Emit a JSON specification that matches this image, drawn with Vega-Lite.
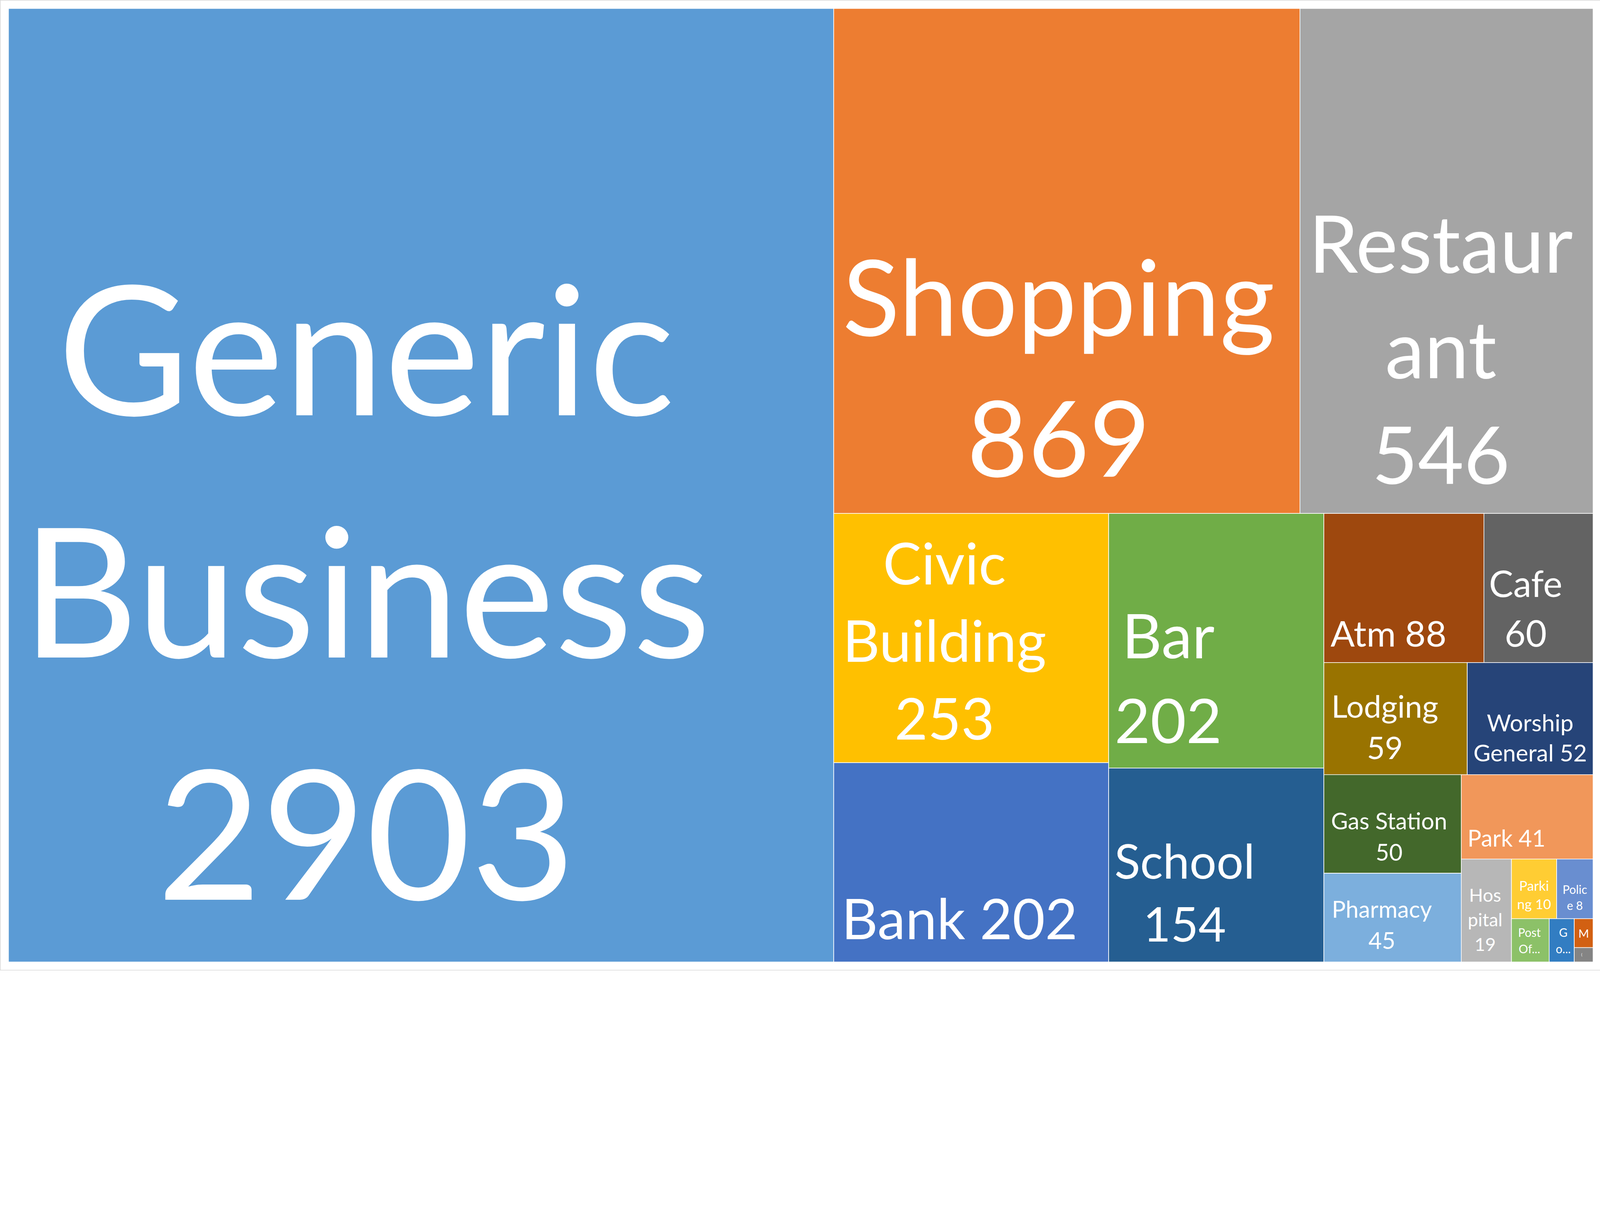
{
  "$schema": "https://vega.github.io/schema/vega-lite/v6.json",
  "width": 4100,
  "height": 2484,
  "padding": 0,
  "autosize": {"type": "none"},
  "background": "#FFFFFF",
  "config": {
    "view": {"stroke": "#D9D9D9", "strokeWidth": 3.2},
    "text": {"font": "Lato", "color": "#FFFFFF", "align": "center", "baseline": "alphabetic", "lineBreak": "\n"}
  },
  "data": {
    "values": [
      {"cat": "Generic Business", "value": 2903, "label": "Generic\nBusiness\n2903", "x0": 0, "x1": 52.08, "y0": 0, "y1": 100},
      {"cat": "Shopping", "value": 869, "label": "Shopping\n869", "x0": 52.08, "x1": 81.5, "y0": 0, "y1": 52.96},
      {"cat": "Restaurant", "value": 546, "label": "Restaur\nant\n546", "x0": 81.5, "x1": 100, "y0": 0, "y1": 52.96},
      {"cat": "Civic Building", "value": 253, "label": "Civic\nBuilding\n253", "x0": 52.08, "x1": 69.43, "y0": 52.96, "y1": 79.1},
      {"cat": "Bank", "value": 202, "label": "Bank 202", "x0": 52.08, "x1": 69.43, "y0": 79.1, "y1": 100},
      {"cat": "Bar", "value": 202, "label": "Bar\n202", "x0": 69.43, "x1": 83.01, "y0": 52.96, "y1": 79.66},
      {"cat": "School", "value": 154, "label": "School\n154", "x0": 69.43, "x1": 83.01, "y0": 79.66, "y1": 100},
      {"cat": "Atm", "value": 88, "label": "Atm 88", "x0": 83.01, "x1": 93.11, "y0": 52.96, "y1": 68.6},
      {"cat": "Cafe", "value": 60, "label": "Cafe\n60", "x0": 93.11, "x1": 100, "y0": 52.96, "y1": 68.6},
      {"cat": "Lodging", "value": 59, "label": "Lodging\n59", "x0": 83.01, "x1": 92.06, "y0": 68.6, "y1": 80.35},
      {"cat": "Worship General", "value": 52, "label": "Worship\nGeneral 52", "x0": 92.06, "x1": 100, "y0": 68.6, "y1": 80.35},
      {"cat": "Gas Station", "value": 50, "label": "Gas Station\n50", "x0": 83.01, "x1": 91.68, "y0": 80.35, "y1": 90.69},
      {"cat": "Pharmacy", "value": 45, "label": "Pharmacy\n45", "x0": 83.01, "x1": 91.68, "y0": 90.69, "y1": 100},
      {"cat": "Park", "value": 41, "label": "Park 41", "x0": 91.68, "x1": 100, "y0": 80.35, "y1": 89.2},
      {"cat": "Hospital", "value": 19, "label": "Hos\npital\n19", "x0": 91.68, "x1": 94.85, "y0": 89.2, "y1": 100},
      {"cat": "Parking", "value": 10, "label": "Parki\nng 10", "x0": 94.85, "x1": 97.7, "y0": 89.2, "y1": 95.46},
      {"cat": "Police", "value": 8, "label": "Polic\ne 8", "x0": 97.7, "x1": 100, "y0": 89.2, "y1": 95.46},
      {"cat": "Post Office", "value": 6, "label": "Post\nOf...", "x0": 94.85, "x1": 97.23, "y0": 95.46, "y1": 100},
      {"cat": "Golf", "value": 4, "label": "G\no...", "x0": 97.23, "x1": 98.81, "y0": 95.46, "y1": 100},
      {"cat": "Museum", "value": 2, "label": "M", "x0": 98.81, "x1": 100, "y0": 95.46, "y1": 98.49},
      {"cat": "(blank)", "value": 1, "label": "(", "x0": 98.81, "x1": 100, "y0": 98.49, "y1": 100}
    ]
  },
  "transform": [{"calculate": "(datum.x0 + datum.x1) / 2", "as": "xc"}],
  "encoding": {
    "x": {"field": "xc", "type": "quantitative", "scale": {"domain": [-0.5347, 100.5347], "nice": false, "zero": false}, "axis": null},
    "y": {"field": "y1", "type": "quantitative", "scale": {"domain": [-0.8887, 100.8887], "nice": false, "zero": false, "reverse": true}, "axis": null}
  },
  "layer": [
    {
      "mark": {"type": "rect", "stroke": "#FFFFFF", "strokeWidth": 1.6},
      "encoding": {
        "x": {"field": "x0", "type": "quantitative", "scale": {"domain": [-0.5347, 100.5347], "nice": false, "zero": false}, "axis": null},
        "x2": {"field": "x1"},
        "y": {"field": "y0", "type": "quantitative", "scale": {"domain": [-0.8887, 100.8887], "nice": false, "zero": false, "reverse": true}, "axis": null},
        "y2": {"field": "y1"},
        "color": {
          "field": "cat",
          "type": "nominal",
          "legend": null,
          "scale": {
            "domain": ["Generic Business", "Shopping", "Restaurant", "Civic Building", "Bank", "Bar", "School", "Atm", "Cafe", "Lodging", "Worship General", "Gas Station", "Pharmacy", "Park", "Hospital", "Parking", "Police", "Post Office", "Golf", "Museum", "(blank)"],
            "range": ["#5B9BD5", "#ED7D31", "#A5A5A5", "#FFC000", "#4472C4", "#70AD47", "#255E91", "#9E480E", "#636363", "#997300", "#264478", "#43682B", "#7CAFDD", "#F1975A", "#B7B7B7", "#FFCD33", "#698ED0", "#8CC168", "#327DC2", "#D26012", "#848484"]
          }
        }
      }
    },
    {"transform": [{"filter": {"field": "cat", "equal": "Generic Business"}}], "mark": {"type": "text", "fontSize": 462, "lineHeight": 620, "dx": -140.6, "dy": -1399.4}, "encoding": {"text": {"field": "label"}}},
    {"transform": [{"filter": {"field": "cat", "equal": "Shopping"}}], "mark": {"type": "text", "fontSize": 270, "lineHeight": 360.7, "dx": -20.9, "dy": -454.7}, "encoding": {"text": {"field": "label"}}},
    {"transform": [{"filter": {"field": "cat", "equal": "Restaurant"}}], "mark": {"type": "text", "fontSize": 203, "lineHeight": 269.9, "dx": -14.5, "dy": -616.1}, "encoding": {"text": {"field": "label"}}},
    {"transform": [{"filter": {"field": "cat", "equal": "Civic Building"}}], "mark": {"type": "text", "fontSize": 147, "lineHeight": 198.4, "dx": -68.3, "dy": -456.3}, "encoding": {"text": {"field": "label"}}},
    {"transform": [{"filter": {"field": "cat", "equal": "Bank"}}], "mark": {"type": "text", "fontSize": 144, "dx": -29.7, "dy": -58.6}, "encoding": {"text": {"field": "label"}}},
    {"transform": [{"filter": {"field": "cat", "equal": "Bar"}}], "mark": {"type": "text", "fontSize": 158, "lineHeight": 216.9, "dx": -122.9, "dy": -280.4}, "encoding": {"text": {"field": "label"}}},
    {"transform": [{"filter": {"field": "cat", "equal": "School"}}], "mark": {"type": "text", "fontSize": 122, "lineHeight": 160.7, "dx": -81.1, "dy": -212.9}, "encoding": {"text": {"field": "label"}}},
    {"transform": [{"filter": {"field": "cat", "equal": "Atm"}}], "mark": {"type": "text", "fontSize": 91.5, "dx": -39.4, "dy": -41}, "encoding": {"text": {"field": "label"}}},
    {"transform": [{"filter": {"field": "cat", "equal": "Cafe"}}], "mark": {"type": "text", "fontSize": 93, "lineHeight": 126.9, "dx": -32.9, "dy": -167.9}, "encoding": {"text": {"field": "label"}}},
    {"transform": [{"filter": {"field": "cat", "equal": "Lodging"}}], "mark": {"type": "text", "fontSize": 79.5, "lineHeight": 106.8, "dx": -27.3, "dy": -146.2}, "encoding": {"text": {"field": "label"}}},
    {"transform": [{"filter": {"field": "cat", "equal": "Worship General"}}], "mark": {"type": "text", "fontSize": 60, "lineHeight": 77.1, "dx": 0, "dy": -110.9}, "encoding": {"text": {"field": "label"}}},
    {"transform": [{"filter": {"field": "cat", "equal": "Gas Station"}}], "mark": {"type": "text", "fontSize": 59.2, "lineHeight": 79.5, "dx": -8.8, "dy": -111.7}, "encoding": {"text": {"field": "label"}}},
    {"transform": [{"filter": {"field": "cat", "equal": "Pharmacy"}}], "mark": {"type": "text", "fontSize": 59.2, "lineHeight": 79.5, "dx": -27.3, "dy": -113.3}, "encoding": {"text": {"field": "label"}}},
    {"transform": [{"filter": {"field": "cat", "equal": "Park"}}], "mark": {"type": "text", "fontSize": 59.2, "dx": -53, "dy": -32.1}, "encoding": {"text": {"field": "label"}}},
    {"transform": [{"filter": {"field": "cat", "equal": "Hospital"}}], "mark": {"type": "text", "fontSize": 47, "lineHeight": 62.7, "dx": -3.2, "dy": -154.2}, "encoding": {"text": {"field": "label"}}},
    {"transform": [{"filter": {"field": "cat", "equal": "Parking"}}], "mark": {"type": "text", "fontSize": 34.8, "lineHeight": 47.4, "dx": 0, "dy": -71.5}, "encoding": {"text": {"field": "label"}}},
    {"transform": [{"filter": {"field": "cat", "equal": "Police"}}], "mark": {"type": "text", "fontSize": 30, "lineHeight": 41, "dx": 0, "dy": -63.5}, "encoding": {"text": {"field": "label"}}},
    {"transform": [{"filter": {"field": "cat", "equal": "Post Office"}}], "mark": {"type": "text", "fontSize": 30, "lineHeight": 41.8, "dx": -2.4, "dy": -64.3}, "encoding": {"text": {"field": "label"}}},
    {"transform": [{"filter": {"field": "cat", "equal": "Golf"}}], "mark": {"type": "text", "fontSize": 30, "lineHeight": 41.8, "dx": 4, "dy": -64.3}, "encoding": {"text": {"field": "label"}}},
    {"transform": [{"filter": {"field": "cat", "equal": "Museum"}}], "mark": {"type": "text", "fontSize": 29.2, "dx": 0, "dy": -25.7}, "encoding": {"text": {"field": "label"}}},
    {"transform": [{"filter": {"field": "cat", "equal": "(blank)"}}], "mark": {"type": "text", "fontSize": 9.6, "dx": -4.8, "dy": -15.3}, "encoding": {"text": {"field": "label"}}}
  ]
}
